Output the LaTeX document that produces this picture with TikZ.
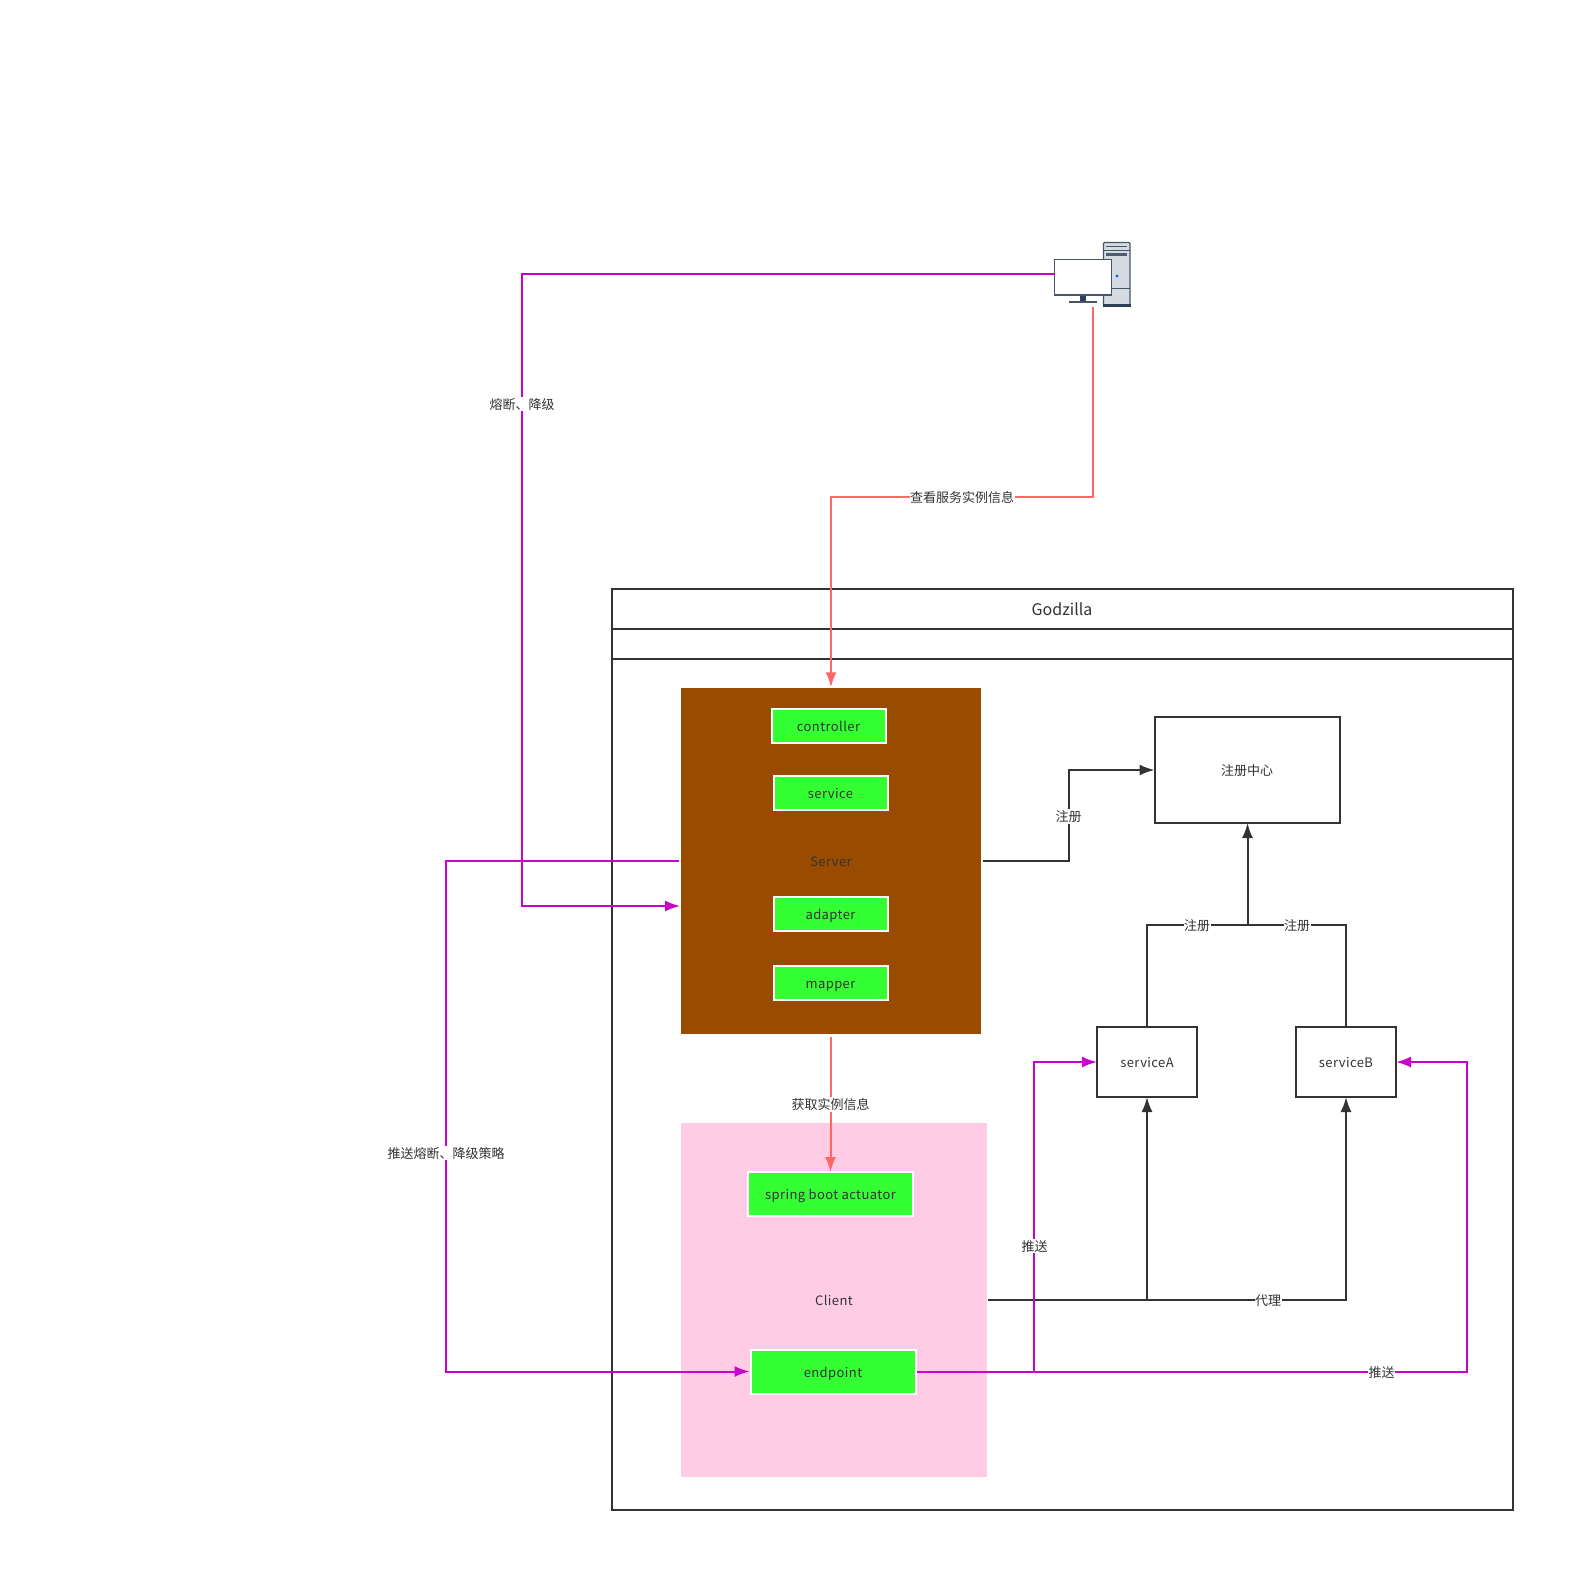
\documentclass[tikz,border=0pt]{standalone}
\usepackage{fontspec}
\setmainfont{Noto Sans CJK SC}
\newfontfamily\latinsp[LetterSpace=3.2]{Noto Sans CJK SC}
\usetikzlibrary{arrows.meta,calc}
\definecolor{ink}{HTML}{333333}
\definecolor{pushc}{HTML}{CC00CC}
\definecolor{redc}{HTML}{FF6666}
\definecolor{greenc}{HTML}{33FF33}
\definecolor{brownc}{HTML}{994C00}
\definecolor{pinkc}{HTML}{FFCCE6}
\definecolor{pcdark}{HTML}{2E4057}
\definecolor{pcedge}{HTML}{46566A}
\definecolor{pcgray}{HTML}{D5DBE0}
\tikzset{
  base/.style={font=\fontsize{13pt}{15pt}\selectfont,text=ink,inner sep=0pt,align=center,text height=12.5pt,text depth=2pt},
  word/.style={base,font=\fontsize{13pt}{15pt}\selectfont\latinsp},
  whitebox/.style={draw=ink,line width=2pt,fill=white,minimum width=#1},
  greenbox/.style={word,draw=white,line width=2pt,fill=greenc,minimum width=114pt,minimum height=34pt,outer sep=0pt},
  lbl/.style={base,fill=white,inner xsep=0.5pt},
  tipa/.style={-{Latex[length=15pt,width=11pt]}},
  conn/.style={line width=2pt,draw=ink,tipa},
  plain/.style={line width=2pt,draw=ink},
  pushl/.style={line width=2pt,draw=pushc,tipa},
  pushp/.style={line width=2pt,draw=pushc},
  redl/.style={line width=2pt,draw=redc,tipa},
}
\begin{document}
\begin{tikzpicture}[x=1pt,y=-1pt]
\useasboundingbox[fill=white] (0,0) rectangle (1575,1573);
% Godzilla frame
\draw[ink,line width=2pt] (612,589) rectangle (1513,1510);
\draw[ink,line width=2pt] (612,629) -- (1513,629);
\draw[ink,line width=2pt] (612,659) -- (1513,659);
\node[word,font=\fontsize{16pt}{18pt}\selectfont,text height=14pt,text depth=2pt] (title) at (1062,609) {Godzilla};
% Server
\node[word,fill=brownc,minimum width=300pt,minimum height=345.5pt,outer sep=1pt] (server) at (831,861) {Server};
\node[greenbox] (controller) at (828.5,726) {controller};
\node[greenbox] (service) at (830.5,793) {service};
\node[greenbox] (adapter) at (830.5,914) {adapter};
\node[greenbox] (mapper) at (830.5,983) {mapper};
% Client
\node[word,fill=pinkc,minimum width=306pt,minimum height=354pt,outer sep=0.5pt] (client) at (834,1300) {Client};
\node[greenbox,minimum width=165pt,minimum height=44pt] (spring) at (830.5,1194) {spring boot actuator};
\node[greenbox,minimum width=165pt,minimum height=44pt,outer sep=1pt] (endpoint) at (833,1372) {endpoint};
% Right side boxes
\node[base,whitebox=185pt,minimum height=106pt,outer sep=0pt] (registry) at (1247,770) {注册中心};
\node[word,whitebox=100pt,minimum height=70pt,outer sep=0pt] (serviceA) at (1147,1062) {serviceA};
\node[word,whitebox=100pt,minimum height=70pt,outer sep=0pt] (serviceB) at (1346,1062) {serviceB};
% Computer icon
\node[minimum width=76pt,minimum height=65pt,inner sep=0pt] (computer) at (1093,274.5) {};
\fill[pcgray,draw=pcedge,line width=1.2pt,rounded corners=1pt] (1103.5,242.5) rectangle (1130,305.5);
\fill[pcdark] (1103,303.5) rectangle (1130.5,306.5);
\draw[pcedge,line width=0.8pt] (1103.5,250) -- (1130,250);
\draw[pcedge,line width=0.8pt] (1103.5,288.5) -- (1130,288.5);
\fill[pcedge] (1106,246) rectangle (1127,247.5);
\fill[pcdark!85] (1106,253) rectangle (1127,256.5);
\fill[blue!60!cyan] (1117,276) circle (1.6pt);
\fill[pcdark] (1080,295) rectangle (1086,301);
\fill[pcedge] (1069,300.5) rectangle (1097,302.5);
\draw[pcedge,line width=1.2pt,fill=white] (1054.5,259.5) rectangle (1111.5,295);
% Connectors
\draw[pushl] (computer.west) -| (522,906) -- ($(server.west)+(0,45)$);
\draw[pushl] ($(server.west)+(-1.5,0)$) -| (446,1371.5) -- (endpoint.west |- 0,1371.5);
\draw[redl] (computer.south) |- (831,497) -- (server.north);
\draw[redl] ($(server.south)+(-0.5,2)$) -- (spring.north);
\draw[conn] ($(server.east)+(1,0)$) -| (1068.5,770) -- (registry.west);
\draw[plain] (serviceA.north) |- (1247.5,924.5);
\draw[plain] (serviceB.north) |- (1247.5,924.5);
\draw[conn] (1247.5,924.5) -- (registry.south -| 1247.5,0);
\draw[plain] (client.east) -- (1147,1300);
\draw[conn] (1147,1300) -- (serviceA.south);
\draw[conn] (1147,1300) -| (serviceB.south);
\draw[pushp] (endpoint.east |- 0,1371.5) -- (1034,1371.5);
\draw[pushl] (1034,1371.5) |- (serviceA.west);
\draw[pushl] (1034,1371.5) -| (1466.5,1062) -- (serviceB.east);
% Labels
\node[lbl] (l1) at (522,404) {熔断、降级};
\node[lbl] (l2) at (962,497.5) {查看服务实例信息};
\node[lbl] (l3) at (446,1153) {推送熔断、降级策略};
\node[lbl] (l4) at (830.5,1104.5) {获取实例信息};
\node[lbl] (l5) at (1068.5,816.5) {注册};
\node[lbl] (l6) at (1197,925.5) {注册};
\node[lbl] (l7) at (1297,925.5) {注册};
\node[lbl] (l8) at (1268,1300) {代理};
\node[lbl] (l9) at (1034.5,1246) {推送};
\node[lbl] (l10) at (1381.5,1372.5) {推送};
\end{tikzpicture}
\end{document}
